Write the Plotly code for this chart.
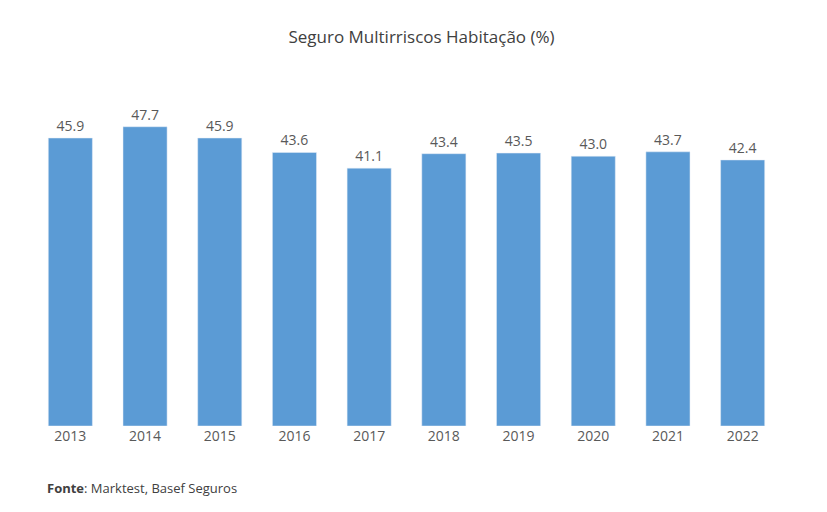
import plotly.graph_objects as go

years = ["2013", "2014", "2015", "2016", "2017", "2018", "2019", "2020", "2021", "2022"]
values = [45.9, 47.7, 45.9, 43.6, 41.1, 43.4, 43.5, 43.0, 43.7, 42.4]

fig = go.Figure(go.Bar(
    x=years, y=values,
    marker_color="#5B9BD5",
    text=[f"{v:.1f}" for v in values],
    textposition="outside",
    textfont=dict(size=14, color="#595959"),
    cliponaxis=False,
))

fig.update_layout(
    width=827, height=512,
    plot_bgcolor="white", paper_bgcolor="white",
    font=dict(family="Open Sans, sans-serif", color="#595959"),
    title=dict(text="Seguro Multirriscos Habitação (%)", x=0.5, xanchor="center",
               y=0.955, font=dict(size=17, color="#404040")),
    margin=dict(l=25, r=55, t=93, b=94),
    bargap=0.41,
    showlegend=False,
)
fig.update_xaxes(tickfont=dict(size=14, color="#595959"), showline=False,
                 ticks="", ticklen=12, tickcolor="white")
fig.update_yaxes(visible=False, range=[0, 51.8])

fig.add_annotation(text="<b>Fonte</b>: Marktest, Basef Seguros", xref="paper", yref="paper",
                   x=0.016, y=-0.19, xanchor="left", yanchor="middle", showarrow=False,
                   font=dict(size=13, color="#404040"))

fig.write_html("out.html")
